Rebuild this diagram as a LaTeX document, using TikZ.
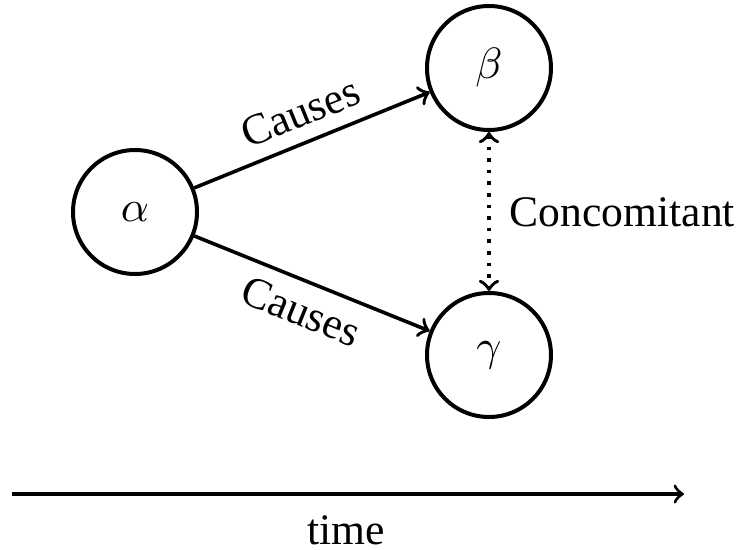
\documentclass[tikz,border=0pt]{standalone}
\usepackage{fontspec}
\setmainfont{Liberation Serif}
\tikzset{
  event/.style={circle, draw, line width=1pt, minimum size=31pt, inner sep=0pt},
  link/.style={->, line width=0.9pt},
}
\begin{document}
\begin{tikzpicture}[x=0.25pt, y=0.25pt, font=\fontsize{10.9}{13}\selectfont]
\useasboundingbox (0,0) rectangle (742,549);
\node[event] (alpha) at (135,337){$\alpha$};
\node[event] (beta) at (489,481){$\beta$};
\node[event] (gamma) at (489,194){$\gamma$};
\draw[link](alpha) -- node[sloped, above]{Causes} (beta);
\draw[link](alpha) -- node[sloped, below]{Causes} (gamma);
\draw[<->, dotted, line width=0.9pt](beta) -- (gamma);
\node[anchor=west, inner sep=0pt] (conc) at (509,337){Concomitant};
\coordinate (t0) at (12,55);
\coordinate (t1) at (684,55);
\draw[->, line width=0.8pt](t0) -- (t1);
\node (time) at (346,19){time};
\end{tikzpicture}
\end{document}
